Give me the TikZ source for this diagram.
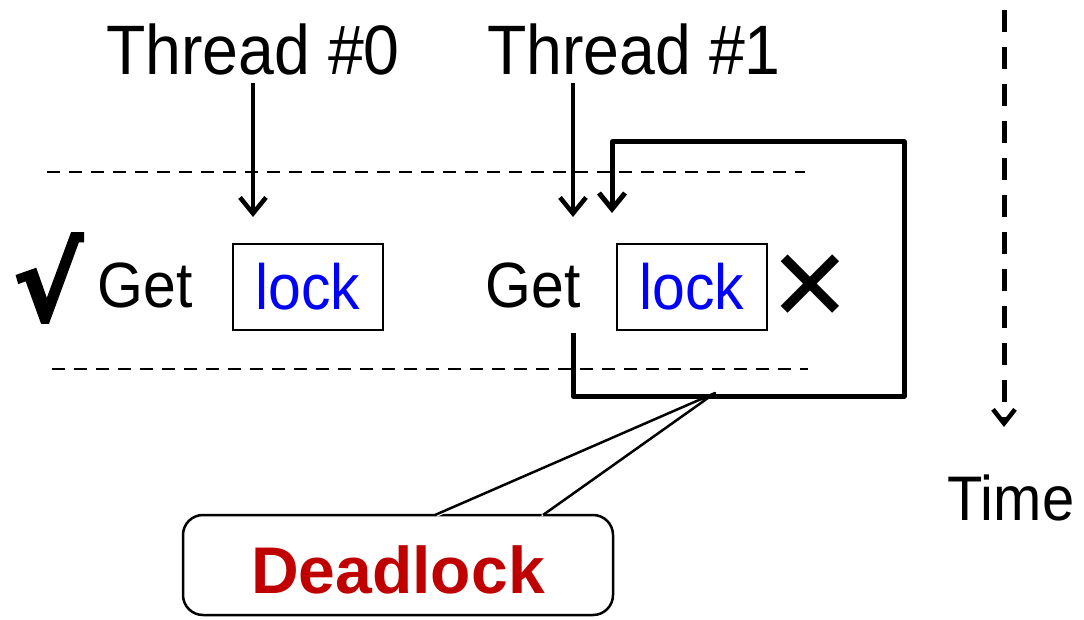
\documentclass[tikz,border=0pt]{standalone}
\usepackage{fontspec}
\setmainfont[FakeStretch=0.92]{Liberation Sans}
\newfontfamily\calloutfont{Liberation Sans}
\newfontfamily\symfont{DejaVu Sans}
\newfontfamily\heavysym[FakeBold=2.5]{DejaVu Sans Bold}
\usetikzlibrary{arrows.meta}
\definecolor{lockblue}{RGB}{0,0,255}
\definecolor{deadred}{RGB}{192,0,0}
\tikzset{
  lbl/.style={inner sep=0pt, font=\fontsize{70}{80}\selectfont},
  word/.style={inner sep=0pt, font=\fontsize{64}{74}\selectfont},
  lockbox/.style={draw, line width=2pt, minimum width=150pt, minimum height=85pt,
                  inner sep=0pt, text=lockblue, font=\fontsize{64}{74}\selectfont},
  guide/.style={line width=1.8pt, dash pattern=on 13pt off 9pt},
  thr/.style={line width=4pt, -{Straight Barb[length=16pt,width=26pt,line width=4.5pt]}},
  cycleline/.style={line width=5pt, line join=round, -{Straight Barb[length=16pt,width=26pt,line width=5pt]}},
  timeline/.style={line width=5pt, dash pattern=on 22pt off 15pt, -{Straight Barb[length=14pt,width=22pt,line width=4.5pt]}},
}
\begin{document}
\begin{tikzpicture}[x=1pt,y=-1pt]
  \useasboundingbox (0,0) rectangle (1084,620);

  % thread headings
  \node[lbl, anchor=base] (t0) at (253,75) {Thread \#0};
  \node[lbl, anchor=base] (t1) at (634,75) {Thread \#1};

  % phase boundaries
  \coordinate (ga) at (47,172);  \coordinate (gb) at (805,172);
  \coordinate (gc) at (52,369);  \coordinate (gd) at (808,369);
  \draw[guide] (ga) -- (gb);
  \draw[guide] (gc) -- (gd);

  % thread 0: acquires the lock
  \node[inner sep=0pt, font=\heavysym\fontsize{104}{116}\selectfont] (ok) at (48,278) {√};
  \node[word, anchor=base] (get0) at (145,308) {Get};
  \node[lockbox] (lock0) at (308,287) {lock};

  % thread 1: blocked on the lock
  \node[word, anchor=base] (get1) at (533,308) {Get};
  \node[lockbox] (lock1) at (692,287) {lock};
  \node[inner sep=0pt, font=\symfont\bfseries\fontsize{100}{110}\selectfont] (fail) at (810,288) {✕};

  % entry arrows
  \coordinate (a0s) at (253,83);  \coordinate (a0e) at (253,217);
  \coordinate (a1s) at (573,83);  \coordinate (a1e) at (573,217);
  \draw[thr] (a0s) -- (a0e);
  \draw[thr] (a1s) -- (a1e);

  % retry loop of thread 1
  \coordinate (r0) at (573,333);
  \coordinate (r1) at (573,396);
  \coordinate (r2) at (904,396);
  \coordinate (r3) at (904,142);
  \coordinate (r4) at (612,142);
  \coordinate (r5) at (612,213);
  \draw[cycleline] (r0) -- (r1) -- (r2) -- (r3) -- (r4) -- (r5);

  % callout
  \node[draw, line width=2.5pt, rounded corners=20pt, fill=white,
        minimum width=430pt, minimum height=100pt] (box) at (398,565) {};
  \coordinate (tip) at (715,393);
  \coordinate (pl) at (435,515);
  \coordinate (pr) at (543,515);
  \fill[white] ([xshift=1.5pt,yshift=-2pt]pl) -- (tip) -- ([xshift=-1.5pt,yshift=-2pt]pr)
               -- ([xshift=-1.5pt,yshift=2pt]pr) -- ([xshift=1.5pt,yshift=2pt]pl) -- cycle;
  \draw[line width=2.5pt, line join=round] (pl) -- (tip) -- (pr);
  \node[inner sep=0pt, anchor=base, text=deadred,
        font=\calloutfont\bfseries\fontsize{66}{76}\selectfont] (dl) at (398,593) {Deadlock};

  % time axis
  \coordinate (ts) at (1004,10);
  \coordinate (te) at (1004,427);
  \draw[timeline] (ts) -- (te);
  \node[lbl, font=\fontsize{63}{72}\selectfont, anchor=base] (time) at (1011,520) {Time};
\end{tikzpicture}
\end{document}
